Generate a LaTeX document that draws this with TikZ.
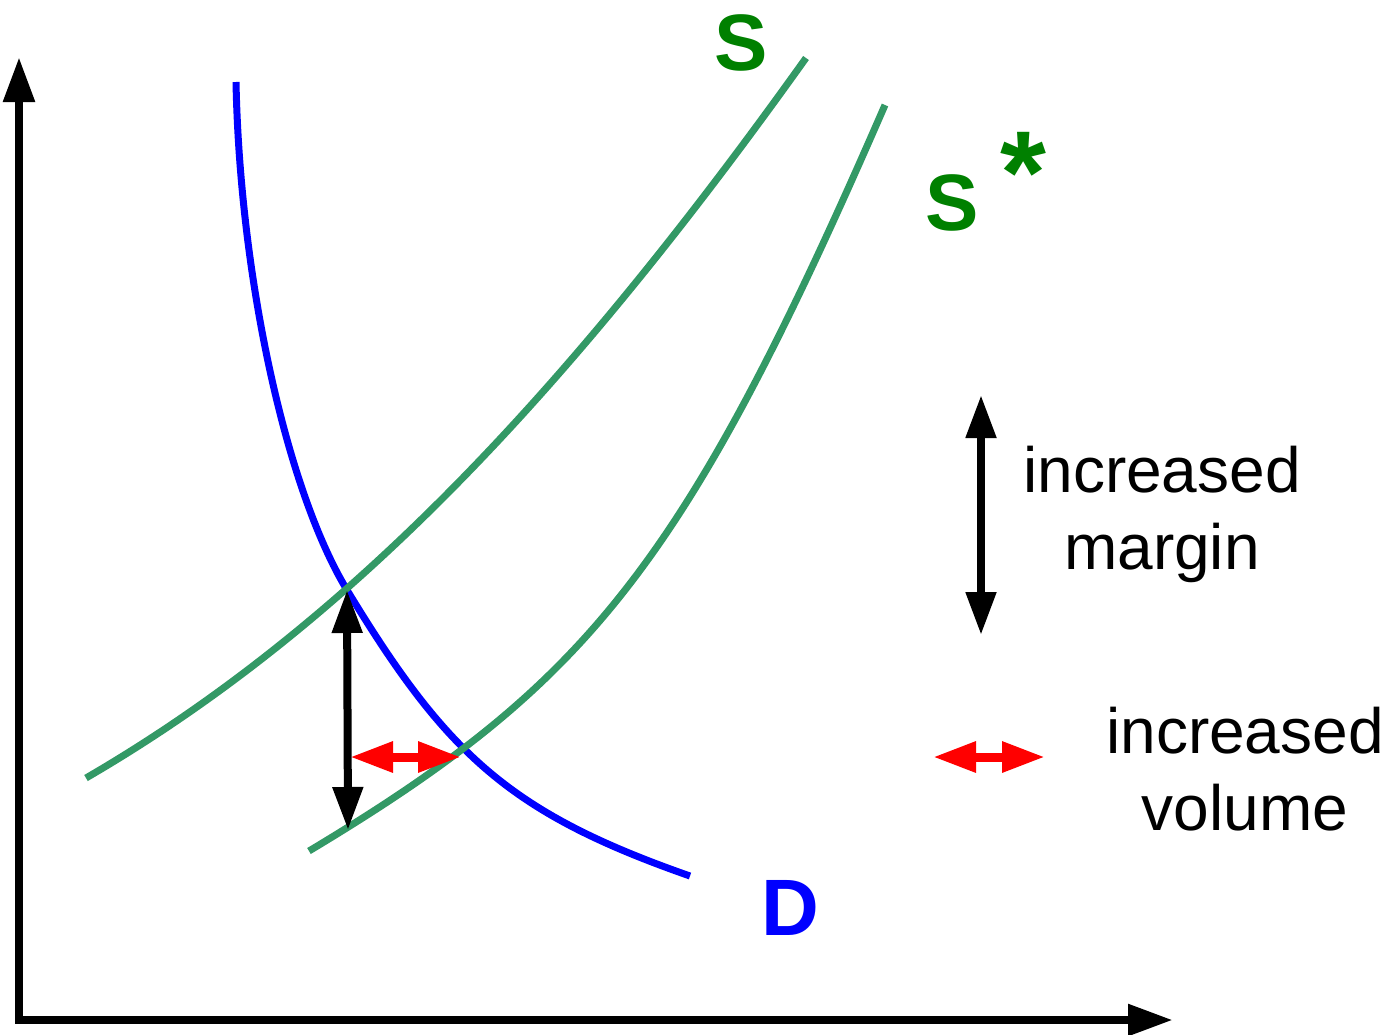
\documentclass[tikz,border=0pt]{standalone}
\usepackage{fontspec}
\setmainfont{Liberation Sans}
\usetikzlibrary{arrows.meta, positioning}
\definecolor{supplygreen}{RGB}{51,153,102}
\definecolor{labelgreen}{RGB}{0,128,0}
\definecolor{demandblue}{RGB}{0,0,255}
\definecolor{volumered}{RGB}{255,0,0}
\tikzset{
    axis/.style={line width=8.5pt, {Triangle[length=45pt,width=30pt]}-{Triangle[length=45pt,width=30pt]}},
    demand/.style={line width=7pt, demandblue},
    supply/.style={line width=7pt, supplygreen},
    marginarrow/.style={line width=8pt, black, {Triangle[length=43pt,width=29pt]}-{Triangle[length=43pt,width=29pt]}},
    volumearrow/.style={line width=9pt, volumered, {Triangle[length=43pt,width=29pt]}-{Triangle[length=43pt,width=29pt]}},
    legend/.style={inner sep=0pt, align=center, font=\fontsize{64}{77}\selectfont},
    curvelabel/.style={inner sep=0pt, font=\fontsize{80}{90}\selectfont\bfseries}
}

\begin{document}
\begin{tikzpicture}[x=1pt, y=-1pt]
    \useasboundingbox (0,0) rectangle (1387,1034);

    % axes
    \coordinate (ytop) at (19,57);
    \coordinate (origin) at (19,1020);
    \coordinate (xend) at (1173,1020);
    \draw[axis] (ytop) -- (origin) -- (xend);

    % demand curve
    \draw[demand] (236,82) .. controls (240,280) and (287,491) .. (347,590)
        .. controls (447,755) and (510,813) .. (690,876);

    % supply curves
    \draw[supply] (86,778) .. controls (346,627) and (566,394) .. (806,58);
    \draw[supply] (309,851) .. controls (589,683) and (685,565) .. (885,105);

    % shifts
    \coordinate (eqold) at (347,590);
    \coordinate (eqbase) at (348,830);
    \coordinate (volstart) at (350,757);
    \coordinate (eqnew) at (461,757);
    \draw[marginarrow] (eqold) -- (eqbase);
    \draw[volumearrow] (volstart) -- (eqnew);

    % legend
    \coordinate (mtop) at (981,395);
    \coordinate (mbot) at (981,635);
    \draw[marginarrow] (mtop) -- (mbot);
    \node[legend, anchor=base] (marginlabel) at (1162,569) {increased\\margin};

    \coordinate (vleft) at (933,757);
    \coordinate (vright) at (1045,757);
    \draw[volumearrow] (vleft) -- (vright);
    \node[legend, anchor=base] (volumelabel) at (1245,830) {increased\\volume};

    % curve labels
    \node[curvelabel, text=labelgreen, anchor=base] (slabel) at (741,70) {S};
    \node[curvelabel, text=labelgreen, anchor=base west] (sstarlabel) at (925,230)
        {S \raisebox{17pt}{\fontsize{118}{118}\selectfont*}};
    \node[curvelabel, text=demandblue, anchor=base] (dlabel) at (790,935) {D};
\end{tikzpicture}
\end{document}
